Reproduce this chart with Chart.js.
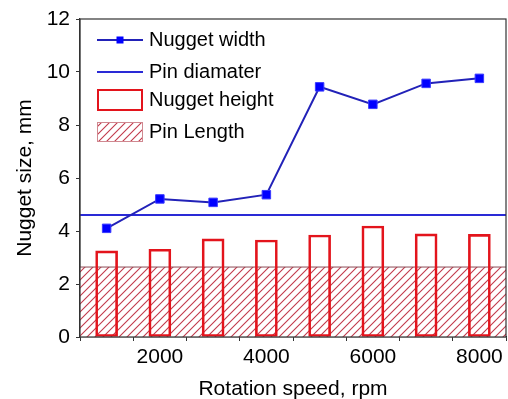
<!DOCTYPE html>
<html>
<head>
<meta charset="utf-8">
<script src="https://cdn.jsdelivr.net/npm/chart.js@4"></script>
<style>
  html, body { margin: 0; padding: 0; background: #fff; }
  #wrap { width: 508px; height: 399px; }
</style>
</head>
<body>
<div id="wrap"><canvas id="canvas" width="508" height="399"></canvas></div>
<script>
// datos
const speeds = [1000, 2000, 3000, 4000, 5000, 6000, 7000, 8000];
const nuggetWidth = [4.1, 5.21, 5.08, 5.37, 9.44, 8.78, 9.57, 9.76];
const nuggetHeight = [3.25, 3.31, 3.7, 3.66, 3.85, 4.19, 3.89, 3.87];
const pinDiameter = 4.6;
const pinLength = 2.64;
const xRange = [500, 8500];
const xTicks = [2000, 4000, 6000, 8000];
const yTicks = [0, 2, 4, 6, 8, 10, 12];

const FONT = 'Arial, "Liberation Sans", sans-serif';

// patron rayado para Pin Length
const makeHatch = () => {
  const c = document.createElement("canvas");
  c.width = 8;
  c.height = 8;
  const g = c.getContext("2d");
  g.fillStyle = "#ffffff";
  g.fillRect(0, 0, 8, 8);
  g.strokeStyle = "#c23a4c";
  g.lineWidth = 1.1;
  g.beginPath();
  g.moveTo(-1, 9);
  g.lineTo(9, -1);
  g.moveTo(-5, 5);
  g.lineTo(5, -5);
  g.moveTo(3, 13);
  g.lineTo(13, 3);
  g.stroke();
  return g.createPattern(c, "repeat");
};
const hatch = makeHatch();

// marco del area del grafico
const frame = {
  id: "frame",
  afterDraw(chart) {
    const { ctx, chartArea: a } = chart;
    ctx.save();
    ctx.strokeStyle = "#333";
    ctx.lineWidth = 1.2;
    ctx.strokeRect(a.left, a.top, a.right - a.left, a.bottom - a.top);
    ctx.restore();
  },
};

// leyenda dentro del grafico
const legendBox = {
  id: "legendBox",
  afterDraw(chart) {
    const { ctx, chartArea: a } = chart;
    const ds = chart.data.datasets;
    const x0 = a.left + 17;
    const w = 46;
    const rows = [a.top + 21, a.top + 53, a.top + 81, a.top + 113];
    ctx.save();
    ctx.font = "20px " + FONT;
    ctx.textBaseline = "middle";
    ctx.fillStyle = "#000";

    // Nugget width
    let y = rows[0];
    ctx.strokeStyle = ds[0].borderColor;
    ctx.lineWidth = 2;
    ctx.beginPath();
    ctx.moveTo(x0, y);
    ctx.lineTo(x0 + w, y);
    ctx.stroke();
    ctx.fillStyle = ds[0].pointBackgroundColor;
    ctx.fillRect(x0 + w / 2 - 3.5, y - 3.5, 7, 7);
    ctx.fillStyle = "#000";
    ctx.fillText(ds[0].label, x0 + w + 6, y);

    // Pin diamater
    y = rows[1];
    ctx.strokeStyle = ds[1].borderColor;
    ctx.lineWidth = 2;
    ctx.beginPath();
    ctx.moveTo(x0, y);
    ctx.lineTo(x0 + w, y);
    ctx.stroke();
    ctx.fillText(ds[1].label, x0 + w + 6, y);

    // Nugget height
    y = rows[2];
    ctx.strokeStyle = ds[2].borderColor;
    ctx.lineWidth = 2;
    ctx.strokeRect(x0 + 1, y - 10, w - 2, 20);
    ctx.fillText(ds[2].label, x0 + w + 6, y);

    // Pin Length
    y = rows[3];
    ctx.fillStyle = hatch;
    ctx.fillRect(x0, y - 10, w, 20);
    ctx.strokeStyle = "#d08890";
    ctx.lineWidth = 1;
    ctx.strokeRect(x0 + 0.5, y - 9.5, w - 1, 19);
    ctx.fillStyle = "#000";
    ctx.fillText(ds[3].label, x0 + w + 6, y);
    ctx.restore();
  },
};

const ctx = document.getElementById("canvas").getContext("2d");
window.myChart = new Chart(ctx, {
  type: "bar",
  data: {
    datasets: [
      {
        type: "line",
        label: "Nugget width",
        data: speeds.map((s, i) => ({ x: s, y: nuggetWidth[i] })),
        borderColor: "#2222b8",
        borderWidth: 2,
        pointStyle: "rect",
        pointRadius: 6,
        pointBackgroundColor: "#0000ff",
        pointBorderColor: "#3a3aff",
        pointBorderWidth: 1,
        fill: false,
        order: 1,
      },
      {
        type: "line",
        label: "Pin diamater",
        data: xRange.map((s) => ({ x: s, y: pinDiameter })),
        borderColor: "#2a2ad6",
        borderWidth: 2,
        pointRadius: 0,
        fill: false,
        order: 2,
      },
      {
        type: "bar",
        label: "Nugget height",
        data: speeds.map((s, i) => ({ x: s, y: nuggetHeight[i] })),
        backgroundColor: "rgba(0,0,0,0)",
        borderColor: "#e3141c",
        borderWidth: 2,
        borderSkipped: false,
        barThickness: 22,
        order: 3,
      },
      {
        type: "line",
        label: "Pin Length",
        data: xRange.map((s) => ({ x: s, y: pinLength })),
        borderColor: "#8c4a55",
        borderWidth: 1,
        backgroundColor: hatch,
        pointRadius: 0,
        fill: "origin",
        order: 4,
      },
    ],
  },
  options: {
    responsive: false,
    animation: false,
    layout: { autoPadding: false, padding: { left: 0, right: 2, top: 19, bottom: 0 } },
    plugins: {
      legend: { display: false },
      tooltip: { enabled: false },
    },
    scales: {
      x: {
        type: "linear",
        min: xRange[0],
        max: xRange[1],
        offset: false,
        afterFit: (scale) => {
          scale.height = 62;
          scale.paddingLeft = 0;
          scale.paddingRight = 0;
        },
        afterBuildTicks: (scale) => {
          scale.ticks = speeds.map((v) => ({ value: v }));
        },
        ticks: {
          autoSkip: false,
          maxRotation: 0,
          padding: 4,
          color: "#000",
          font: { family: FONT, size: 21 },
          callback: (v) => (xTicks.includes(v) ? String(v) : ""),
        },
        grid: {
          drawOnChartArea: false,
          tickLength: 4,
          color: "#333",
        },
        border: { color: "#333", width: 1.2 },
        title: {
          display: true,
          text: "Rotation speed, rpm",
          color: "#000",
          font: { family: FONT, size: 21 },
          padding: { top: 0, bottom: -3 },
        },
      },
      y: {
        min: 0,
        max: 12,
        afterFit: (scale) => {
          scale.width = 80;
        },
        afterBuildTicks: (scale) => {
          const t = [];
          for (let v = 0; v <= 12; v++) t.push({ value: v });
          scale.ticks = t;
        },
        ticks: {
          padding: 6,
          color: "#000",
          font: { family: FONT, size: 21 },
          callback: (v) => (yTicks.includes(v) ? String(v) : ""),
        },
        grid: {
          drawOnChartArea: false,
          tickLength: 4,
          color: "#333",
        },
        border: { color: "#333", width: 1.2 },
        title: {
          display: true,
          text: "Nugget size, mm",
          color: "#000",
          font: { family: FONT, size: 21 },
          padding: { top: 13, bottom: 0 },
        },
      },
    },
  },
  plugins: [frame, legendBox],
});
</script>
</body>
</html>
